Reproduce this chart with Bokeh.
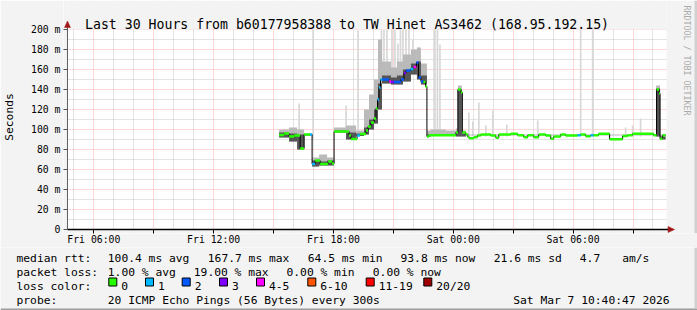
import math
from bokeh.plotting import figure
from bokeh.models import Range1d, FixedTicker
from bokeh.layouts import column
from bokeh.core.properties import value
from bokeh.embed import file_html
from bokeh.resources import INLINE

# ---------------- data ----------------
title_text = "Last 30 Hours from b60177958388 to TW Hinet AS3462 (168.95.192.15)"
x_start, x_end = 4.68, 34.68          # hours since Fri 00:00 (last 30 hours)
x_major = [6, 9, 12, 15, 18, 21, 24, 27, 30, 33]
x_labels = {6: "Fri 06:00", 12: "Fri 12:00", 18: "Fri 18:00", 24: "Sat 00:00", 30: "Sat 06:00"}
y_ticks = [0, 20, 40, 60, 80, 100, 120, 140, 160, 180, 200]
y_labels = ["0", "20 m", "40 m", "60 m", "80 m", "100 m", "120 m", "140 m", "160 m", "180 m", "200 m"]

# median rtt (ms) as step segments: start hour, value, loss class
med_t = [
    15.28, 15.53, 15.78, 16.03, 16.33, 16.53, 16.83, 16.93, 17.08, 17.33,
    17.73, 17.93, 18.03, 18.78, 18.88, 19.18, 19.33, 19.63, 19.73, 19.88,
    20.03, 20.13, 20.205, 20.28, 20.355, 20.455, 20.78, 20.88, 21.03, 21.38,
    21.53, 21.63, 21.855, 22.005, 22.155, 22.255, 22.38, 22.505, 22.605, 22.68,
    22.78, 24.13, 24.23, 24.38, 24.455, 24.63, 24.73, 24.805, 25.03, 25.205,
    25.38, 25.88, 26.13, 26.28, 26.88, 27.23, 27.53, 27.73, 28.03, 28.28,
    28.63, 28.88, 29.03, 29.38, 29.63, 30.23, 30.38, 30.63, 30.88, 31.03,
    31.28, 31.83, 32.48, 32.73, 32.98, 34.03, 34.18, 34.305, 34.355, 34.48,
]
med_end = 34.63
med_v = [
    94.5, 96, 93, 94, 81, 95, 95, 65.5, 69, 65.5,
    68, 66, 98, 94, 90.5, 94, 95.5, 99, 103, 107,
    111, 121, 130, 142, 150, 150, 148, 147.5, 147.5, 150,
    156.5, 159, 160.5, 162.5, 167, 152, 148, 147.5, 143, 93,
    94.3, 97, 140, 137, 97, 95, 92.3, 91.3, 92.3, 94,
    95, 94, 91.7, 95, 95.7, 94.3, 92.3, 94.3, 92.3, 95,
    94, 90.7, 93, 95, 94, 94.3, 95, 93.3, 94.3, 94.3,
    95.7, 90.3, 93.5, 94.3, 95.7, 94.3, 140, 136, 90.7, 94.3,
]
med_loss = [
    0, 0, 0, 0, 0, 0, 1, 1, 0, 0,
    0, 0, 0, 0, 0, 1, 0, 0, 0, 0,
    0, 0, 1, 1, 1, 2, 4, 3, 2, 2,
    3, 2, 1, 4, 2, 2, 2, 0, 0, 0,
    0, 0, 0, 0, 0, 0, 0, 0, 0, 0,
    0, 0, 0, 0, 0, 0, 0, 0, 0, 0,
    0, 0, 0, 0, 0, 1, 0, 0, 1, 0,
    0, 0, 0, 0, 0, 0, 0, 0, 0, 0,
]

# smoke bands (ms): bottom, top of dark core, top of grey smoke
smk_t = [15.28, 15.78, 16.18, 16.53, 16.93, 17.28, 17.68, 18.03, 18.63, 19.13,
         19.53, 19.78, 20.03, 20.23, 20.43, 20.88, 21.18, 21.48, 21.88, 22.18,
         22.38, 22.68, 22.88, 23.63, 24.13, 24.23, 24.43, 24.63, 26.38, 34.03,
         34.155, 34.355]
smk_end = 34.63
smk_lo = [92, 88, 80, 94, 63, 64, 64, 97, 90, 93.5,
          95, 100, 106, 120, 146, 145, 145, 148, 155, 150,
          145, 93, 94, 94, 93, 93, 93, 94, 94, 94,
          93, 90]
smk_dark = [97, 96, 95, 95, 69, 68, 69, 99, 97, 96,
            102, 110, 120, 146, 154, 152, 154, 160, 166, 168,
            154, 95, 94, 94, 98, 140, 96, 94, 94, 94,
            141, 93]
smk_hi = [100, 102, 100, 96, 72, 75, 72, 102, 104, 99,
          120, 135, 150, 190, 168, 162, 168, 175, 180, 182,
          166, 99, 100, 99, 101, 144, 99, 95, 95, 95,
          144, 95]

# single-ping outliers (light smoke spikes)
spk_t = [16.28, 16.98, 18.63, 19.23, 20.405, 20.53, 20.68, 20.93, 21.08, 21.23,
         21.355, 21.48, 21.63, 21.78, 21.98, 22.23, 23.08, 23.205, 23.33, 24.78,
         24.98, 25.28, 25.63, 25.98, 26.68, 28.23, 30.38, 30.98, 32.63, 32.98, 33.38]
spk_bot = [96, 89, 97, 96, 150, 150, 150, 150, 150, 150,
           150, 152, 155, 158, 160, 160, 95, 95, 95, 93,
           93, 93, 93, 93, 93, 93, 93, 93, 93, 93, 93]
spk_top = [126, 200, 124, 199, 200, 200, 200, 200, 200, 186,
           200, 200, 200, 200, 190, 182, 200, 200, 185, 117,
           108, 127, 104, 119, 105, 109, 200, 200, 102, 104, 111]

loss_colors = ["#26ff00", "#00b8ff", "#0059ff", "#7e00ff", "#ff00ff", "#ff5500", "#ff0000", "#a10000"]
loss_names = ["0", "1", "2", "3", "4-5", "6-10", "11-19", "20/20"]

row_median = ["median rtt:", "100.4 ms avg", "167.7 ms max", "64.5 ms min", "93.8 ms now", "21.6 ms sd", "4.7", "am/s"]
row_loss = ["packet loss:", "1.00 % avg", "19.00 % max", "0.00 % min", "0.00 % now"]
row_probe = ["probe:", "20 ICMP Echo Pings (56 Bytes) every 300s", "Sat Mar  7 10:40:47 2026"]

# ---------------- layout ----------------
W, H = 697, 310
AX_X, AX_Y, RIGHT_X, TOP_Y = 66, 229, 666, 29      # plot area in canvas pixels
FRAME_L, FRAME_B, TOP_H = 62, 233, 247
PX_PER_H = 20.0
MONO = "DejaVu Sans Mono"
BG = "#f3f3f3"


def hx(px):
    return x_start + (px - AX_X) / PX_PER_H


def vy(py):
    return float(AX_Y - py)


p = figure(width=W, height=TOP_H,
           x_range=Range1d(hx(FRAME_L), hx(W)), y_range=Range1d(vy(FRAME_B), vy(0)),
           output_backend="svg", toolbar_location=None, frame_align=False,
           min_border_left=FRAME_L, min_border_right=0, min_border_top=0,
           min_border_bottom=TOP_H - FRAME_B,
           background_fill_color="white", border_fill_color=BG, outline_line_color=None)
p.title.visible = False

# grids
xminor = [h for h in range(5, 35) if h % 3 != 0]
p.xgrid.ticker = FixedTicker(ticks=x_major, minor_ticks=xminor)
p.ygrid.ticker = FixedTicker(ticks=y_ticks[1:], minor_ticks=list(range(10, 200, 20)))
for g in (p.xgrid, p.ygrid):
    g.grid_line_color = "#ff8080"
    g.grid_line_alpha = 0.6
    g.grid_line_dash = "1 1"
    g.minor_grid_line_color = "#bbbbbb"
    g.minor_grid_line_alpha = 0.8
    g.minor_grid_line_dash = "1 1"

# axes (lines drawn separately; ticks and labels from the axes)
p.xaxis.ticker = FixedTicker(ticks=x_major)
p.xaxis.major_label_overrides = {h: x_labels.get(h, "") for h in x_major}
p.yaxis.ticker = FixedTicker(ticks=y_ticks)
p.yaxis.major_label_overrides = {t: l for t, l in zip(y_ticks, y_labels)}
p.yaxis.bounds = (0, 204)
p.xaxis.bounds = (x_start, hx(668))
for ax in (p.xaxis, p.yaxis):
    ax.axis_line_color = None
    ax.major_label_text_font = MONO
    ax.major_label_text_font_size = "9.8px"
    ax.major_label_text_color = "black"
    ax.major_tick_in = FRAME_B - AX_Y
    ax.major_tick_out = 0
    ax.minor_tick_line_color = None
p.xaxis.major_tick_line_color = "black"
p.xaxis.major_label_standoff = 0
p.yaxis.major_tick_line_color = "#555555"
p.yaxis.major_label_standoff = 3
p.yaxis.axis_label = "Seconds"
p.yaxis.axis_label_text_font = MONO
p.yaxis.axis_label_text_font_size = "11.3px"
p.yaxis.axis_label_text_font_style = "normal"
p.yaxis.axis_label_text_color = "black"
p.yaxis.axis_label_standoff = 12

# smoke
p.vbar(x=spk_t, width=0.085, bottom=spk_bot, top=spk_top, fill_color="#d8d8d8", line_color=None)
smk_right = smk_t[1:] + [smk_end]
p.quad(left=smk_t, right=smk_right, bottom=smk_lo, top=smk_hi, fill_color="#bababa", line_color=None)
p.quad(left=smk_t, right=smk_right, bottom=smk_lo, top=smk_dark, fill_color="#555555", line_color=None)

# median
p.step(x=med_t + [med_end], y=med_v + [med_v[-1]], mode="after", line_color="black", line_width=1)
p.segment(x0=med_t, x1=med_t[1:] + [med_end], y0=med_v, y1=med_v,
          line_color=[loss_colors[i] for i in med_loss], line_width=2.5)

# mask everything in the frame that is outside the graph area
p.quad(left=[hx(FRAME_L), hx(RIGHT_X), hx(AX_X), hx(AX_X)],
       right=[hx(AX_X), hx(W), hx(RIGHT_X), hx(RIGHT_X)],
       bottom=[vy(FRAME_B), vy(FRAME_B), vy(TOP_Y), vy(FRAME_B)],
       top=[vy(0), vy(0), vy(0), vy(AX_Y)],
       fill_color=BG, line_color=None)

# axis lines and arrows
ARROW = "#a01818"
p.segment(x0=[hx(AX_X)], y0=[vy(AX_Y)], x1=[hx(AX_X)], y1=[vy(24)], line_color="#606060", line_width=1)
p.segment(x0=[hx(AX_X)], y0=[vy(AX_Y)], x1=[hx(669)], y1=[vy(AX_Y)], line_color="black", line_width=1.5)
p.patches(xs=[[hx(63), hx(69), hx(66)], [hx(667.5), hx(667.5), hx(674)]],
          ys=[[vy(27), vy(27), vy(20.5)], [vy(226), vy(232), vy(229)]],
          fill_color=ARROW, line_color=ARROW, line_width=0.5)

# right edge shading
p.quad(left=[hx(694)], right=[hx(W)], bottom=[vy(FRAME_B)], top=[vy(0)], fill_color="#d0d0d0", line_color=None)

# title and watermark
p.text(x=[hx(346)], y=[vy(24)], text=[title_text], text_font=value(MONO), text_font_size="13.2px",
       text_align="center", text_baseline="alphabetic", text_color="black")
p.text(x=[hx(686.7)], y=[vy(60)], text=["RRDTOOL / TOBI OETIKER"], angle=-math.pi / 2,
       text_font=value(MONO), text_font_size="8.3px", text_align="center", text_baseline="middle",
       text_color="#ababab")

# ---------------- legend strip ----------------
q = figure(width=W, height=H - TOP_H, x_range=Range1d(0, W), y_range=Range1d(H, TOP_H),
           output_backend="svg", toolbar_location=None, x_axis_type=None, y_axis_type=None,
           frame_align=False,
           min_border_left=0, min_border_right=0, min_border_top=0, min_border_bottom=0,
           background_fill_color=BG, border_fill_color=BG, outline_line_color=None)
q.title.visible = False
q.grid.visible = False


def row_text(xs, ys, texts):
    q.text(x=xs, y=ys, text=texts, text_font=value(MONO), text_font_size="11.3px",
           text_align="left", text_baseline="alphabetic", text_color="black")


row_text([16, 107.3, 207.3, 307.3, 400, 493.3, 579.3, 621.7], [257.5] * 8, row_median)
row_text([16, 107.3, 193.3, 286, 372.3], [271.5] * 5, row_loss)
sw_x = [108.3, 145, 181.7, 219, 256, 307.3, 365.7, 423.3]
row_text([16] + [s + 12.5 for s in sw_x], [285.5] * 9, ["loss color:"] + loss_names)
q.quad(left=sw_x, right=[s + 8 for s in sw_x], top=[277.5] * 8, bottom=[285.5] * 8,
       fill_color=loss_colors, line_color="black", line_width=1)
row_text([16, 107.3, 512.7], [299.5] * 3, row_probe)
q.quad(left=[0, 694], right=[W, W], top=[308, TOP_H], bottom=[H, 308],
       fill_color=["#9e9e9e", "#d0d0d0"], line_color=None)

open("out.html", "w").write(file_html(column(p, q, spacing=0), INLINE))
